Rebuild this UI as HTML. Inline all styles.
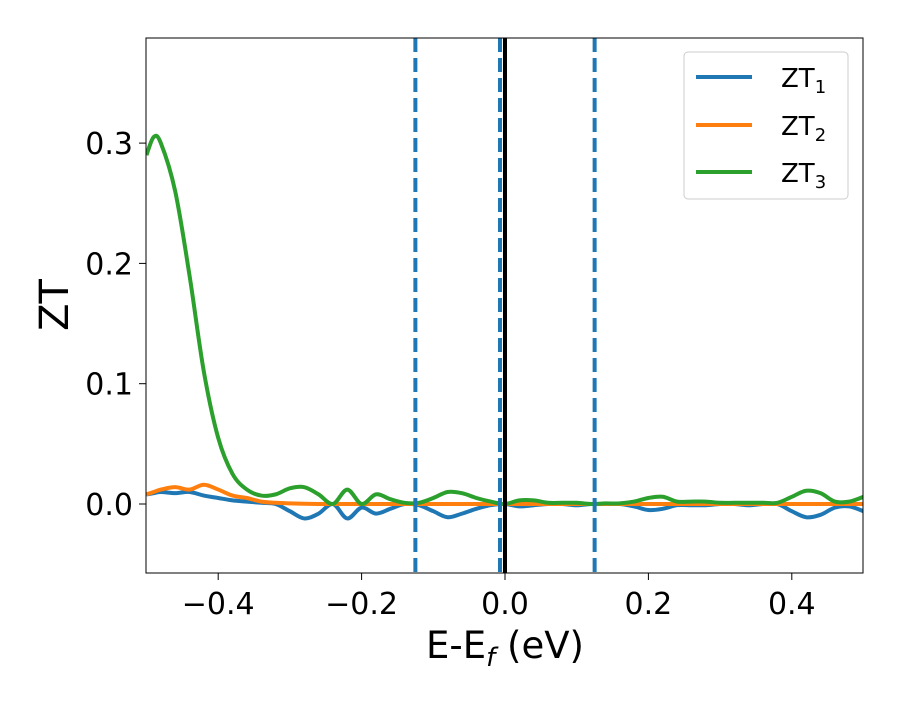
<!DOCTYPE html>
<html><head><meta charset="utf-8"><style>
body{margin:0;background:#fff;}
text{font-family:"DejaVu Sans","Liberation Sans",sans-serif;fill:#000;}
</style></head><body>
<svg id="chart" width="900" height="700" viewBox="0 0 900 700">
<g id="lines"></g>
<rect x="146" y="38" width="717" height="535" fill="none" stroke="#000" stroke-width="1"/>
<g id="xt"></g>
<g id="yt"></g>
<text x="505" y="658" font-size="37" text-anchor="middle">E-E<tspan font-style="italic" font-size="26" dy="8">f</tspan><tspan dy="-8"> (eV)</tspan></text>
<text x="0" y="0" font-size="40" text-anchor="middle" transform="translate(68,305) rotate(-90)">ZT</text>
<g>
<rect x="684" y="52" width="164" height="147" rx="4" fill="#fff" stroke="#ccc"/>
<line x1="696" y1="77" x2="752" y2="77" stroke="#1f77b4" stroke-width="4"/>
<text x="781" y="87" font-size="26">ZT<tspan font-size="18" dy="6">1</tspan></text>
<line x1="696" y1="125" x2="752" y2="125" stroke="#ff7f0e" stroke-width="4"/>
<text x="781" y="135" font-size="26">ZT<tspan font-size="18" dy="6">2</tspan></text>
<line x1="696" y1="172" x2="752" y2="172" stroke="#2ca02c" stroke-width="4"/>
<text x="781" y="182" font-size="26">ZT<tspan font-size="18" dy="6">3</tspan></text>
</g>
</svg>
<script>
const xs=[-0.5,-0.49,-0.48,-0.46,-0.44,-0.42,-0.40,-0.38,-0.36,-0.34,-0.32,-0.30,-0.28,-0.26,-0.24,-0.22,-0.20,-0.18,-0.16,-0.14,-0.12,-0.10,-0.08,-0.06,-0.04,-0.02,0.0,0.02,0.04,0.06,0.08,0.10,0.12,0.14,0.16,0.18,0.20,0.22,0.24,0.26,0.28,0.30,0.32,0.34,0.36,0.38,0.40,0.42,0.44,0.46,0.48,0.50];
const zt1=[0.008,0.009,0.010,0.009,0.010,0.007,0.005,0.003,0.002,0.001,0.0,-0.006,-0.012,-0.008,0.0,-0.012,-0.003,-0.008,-0.004,0.0,-0.001,-0.006,-0.011,-0.008,-0.004,-0.001,0.0,-0.002,-0.001,0.0,0.0,-0.001,0.0,0.0,0.0,-0.002,-0.005,-0.004,-0.001,-0.001,-0.001,0.0,0.0,-0.001,0.0,0.0,-0.006,-0.011,-0.009,-0.003,-0.002,-0.006];
const zt2=[0.008,0.010,0.012,0.014,0.012,0.016,0.012,0.007,0.005,0.002,0.001,0.0005,0.0002,0,0,0,0,0,0,0,0,0,0,0,0,0,0,0,0,0,0,0,0,0,0,0,0,0,0,0,0,0,0,0,0,0,0,0,0,0,0,0];
const zt3=[0.29,0.305,0.30,0.26,0.19,0.11,0.055,0.025,0.012,0.007,0.008,0.013,0.014,0.008,0.0,0.012,0.0,0.008,0.004,0.001,0.001,0.005,0.010,0.009,0.005,0.002,0.0,0.003,0.003,0.001,0.001,0.001,0.0,0.0005,0.0005,0.002,0.005,0.006,0.002,0.002,0.002,0.001,0.001,0.001,0.001,0.001,0.006,0.011,0.009,0.002,0.002,0.006];
const xTicks=[-0.4,-0.2,0.0,0.2,0.4];
const yTicks=[0.0,0.1,0.2,0.3];
const vDashed=[-0.125,-0.007,0.125];
const vSolid=[0.0];
const X=v=>505+v*717;
const Y=v=>504-v*1203;
const NS="http://www.w3.org/2000/svg";
function mk(t,p,a){const e=document.createElementNS(NS,t);for(const k in a)e.setAttribute(k,a[k]);p.appendChild(e);return e;}
function path(arr){let pts=xs.map((x,i)=>[X(x),Y(arr[i])]);let d="M"+pts[0][0]+","+pts[0][1];
for(let i=0;i<pts.length-1;i++){const p0=pts[Math.max(0,i-1)],p1=pts[i],p2=pts[i+1],p3=pts[Math.min(pts.length-1,i+2)];
d+=" C"+(p1[0]+(p2[0]-p0[0])/6)+","+(p1[1]+(p2[1]-p0[1])/6)+" "+(p2[0]-(p3[0]-p1[0])/6)+","+(p2[1]-(p3[1]-p1[1])/6)+" "+p2[0]+","+p2[1];}return d;}
const g=document.getElementById('lines');
const cp=mk('clipPath',document.getElementById('chart'),{id:'cp'});mk('rect',cp,{x:146,y:38,width:717,height:535});
g.setAttribute('clip-path','url(#cp)');
[[zt1,'#1f77b4','series-zt1'],[zt2,'#ff7f0e','series-zt2'],[zt3,'#2ca02c','series-zt3']].forEach(s=>{
const e=mk('path',g,{d:path(s[0]),fill:'none',stroke:s[1],'stroke-width':4});

});
vDashed.forEach(v=>{const e=mk('line',g,{x1:X(v),x2:X(v),y1:38,y2:573,stroke:'#1f77b4','stroke-width':4,'stroke-dasharray':'14,6'});

});
vSolid.forEach(v=>{const e=mk('line',g,{x1:X(v),x2:X(v),y1:38,y2:573,stroke:'#000','stroke-width':4});

});
const xt=document.getElementById('xt');
xTicks.forEach(v=>{mk('line',xt,{x1:X(v),x2:X(v),y1:573,y2:580,stroke:'#000'});
const t=mk('text',xt,{x:X(v),y:614,'font-size':30,'text-anchor':'middle'});t.textContent=(v<0?'\u2212':'')+Math.abs(v).toFixed(1);

});
const yt=document.getElementById('yt');
yTicks.forEach(v=>{mk('line',yt,{x1:139,x2:146,y1:Y(v),y2:Y(v),stroke:'#000'});
const t=mk('text',yt,{x:133,y:Y(v)+11,'font-size':30,'text-anchor':'end'});t.textContent=v.toFixed(1);

});
</script>
</body></html>
